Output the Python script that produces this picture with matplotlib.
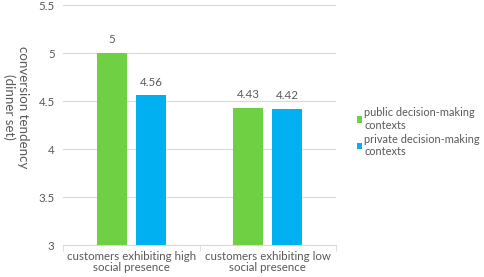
import matplotlib.pyplot as plt
import numpy as np

categories = ["customers exhibiting high\nsocial presence", "customers exhibiting low\nsocial presence"]
series_names = ["public decision-making\ncontexts", "private decision-making\ncontexts"]
public_values = [5.0, 4.43]
private_values = [4.56, 4.42]
value_labels = [["5", "4.43"], ["4.56", "4.42"]]
colors = ["#6FD043", "#00B0F0"]

plt.rcParams["font.family"] = ["Lato", "DejaVu Sans"]
text_color = "#595959"
fs = 8.3

fig = plt.figure(figsize=(4.84, 2.77), dpi=100)
ax = fig.add_axes([63 / 484, 1 - 245 / 277, 273 / 484, 240 / 277])

x = np.arange(len(categories))
width = 0.22
offset = 0.143
for i, vals in enumerate([public_values, private_values]):
    pos = x + (i * 2 - 1) * offset
    ax.bar(pos, np.array(vals) - 3, width, bottom=3, color=colors[i],
           label=series_names[i], zorder=3)
    for p, v, lab in zip(pos, vals, value_labels[i]):
        ax.text(p, v + 0.08, lab, ha="center", va="bottom", fontsize=fs,
                color=text_color)

ax.set_xlim(-0.5, 1.5)
ax.set_ylim(3, 5.5)
ax.set_yticks([3, 3.5, 4, 4.5, 5, 5.5])
ax.set_yticklabels(["3", "3.5", "4", "4.5", "5", "5.5"])
ax.grid(axis="y", color="#d9d9d9", linewidth=0.8, zorder=0)
for s in ["top", "right", "left"]:
    ax.spines[s].set_visible(False)
ax.spines["bottom"].set_color("#d9d9d9")
ax.tick_params(axis="y", length=0, colors=text_color, labelsize=fs, pad=6)
ax.set_xticks(x)
ax.set_xticklabels(categories, fontsize=fs, color=text_color, linespacing=1.0)
ax.tick_params(axis="x", length=0, pad=4)
ax.set_xticks([-0.5, 0.5, 1.5], minor=True)
ax.tick_params(axis="x", which="minor", length=4, color="#d9d9d9")

fig.text(16 / 484, 1 - 107 / 277, "conversion tendency\n(dinner set)", rotation=270,
         ha="center", va="center", fontsize=9.6, color=text_color,
         multialignment="center", linespacing=1.1)

leg = ax.legend(loc="upper left", bbox_to_anchor=(357 / 484, 1 - 107 / 277),
                bbox_transform=fig.transFigure, frameon=False, fontsize=7.9,
                handlelength=0.5, handleheight=0.5, handletextpad=0.15,
                labelspacing=0.25, labelcolor=text_color,
                borderaxespad=0, borderpad=0)

fig.savefig("out.png", dpi=100)
